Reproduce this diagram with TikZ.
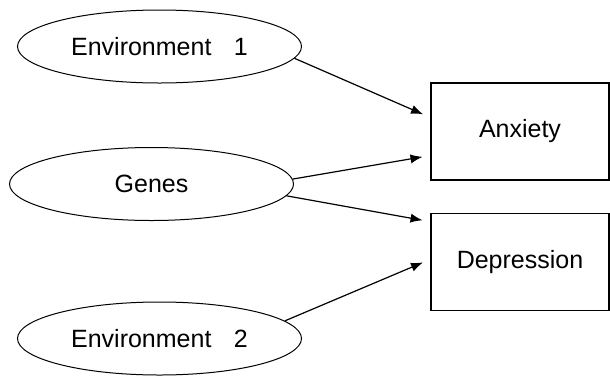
\documentclass[tikz,border=0pt]{standalone}
\usepackage{fontspec}
\setmainfont{Liberation Sans}
\usepackage{tikz}
\usetikzlibrary{positioning, shapes.geometric, arrows.meta}

\begin{document}
\begin{tikzpicture}[
    x=0.5pt, y=-0.5pt,
    node distance=16pt,
    cause/.style={ellipse, draw, line width=0.5pt, inner sep=0pt, minimum width=142pt, minimum height=36.5pt, font=\fontsize{12.5pt}{15pt}\selectfont},
    outcome/.style={rectangle, draw, line width=0.6pt, inner sep=0pt, minimum width=89pt, minimum height=48.5pt, font=\fontsize{12.5pt}{15pt}\selectfont},
    arrow/.style={-{Latex[length=6pt, width=4.6pt]}, line width=0.6pt, shorten >=4pt}
]
    \useasboundingbox (0,0) rectangle (610,376);

    \node[cause] (env1) at (159.5,46.5) {Environment\hspace{0.9em}1};
    \node[cause] (genes) at (151.5,184) {Genes};
    \node[cause] (env2) at (159.5,338.5) {Environment\hspace{0.9em}2};

    \node[outcome] (anx) at (520,131.5) {Anxiety};
    \node[outcome, below=of anx] (dep) {Depression};

    \draw[arrow] (env1.-5) -- ([yshift=7pt]anx.west);
    \draw[arrow] (genes.2) -- ([yshift=-12pt]anx.west);
    \draw[arrow] (genes.-5) -- ([yshift=20pt]dep.west);
    \draw[arrow] (env2.8) -- ([yshift=1.2pt]dep.west);
\end{tikzpicture}
\end{document}
